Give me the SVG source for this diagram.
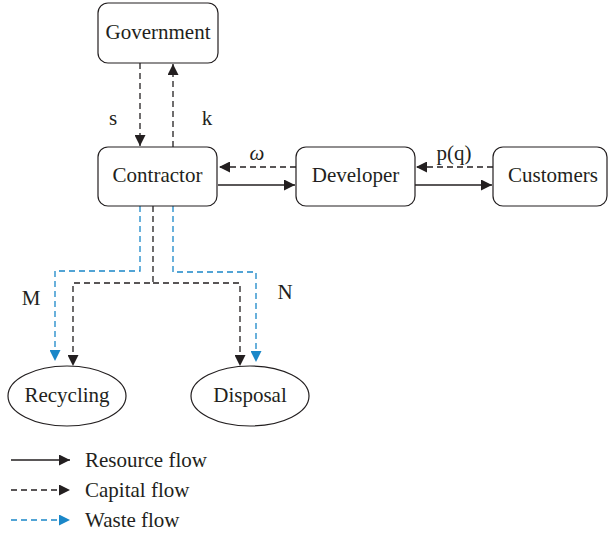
<svg xmlns="http://www.w3.org/2000/svg" width="610" height="535" viewBox="0 0 610 535">
<defs>
<marker id="ak" viewBox="0 0 10 10" refX="10" refY="5" markerWidth="12" markerHeight="11" markerUnits="userSpaceOnUse" orient="auto"><path d="M0,0 L10,5 L0,10 Z" fill="#231f20"/></marker>
<marker id="ab" viewBox="0 0 10 10" refX="10" refY="5" markerWidth="12" markerHeight="11" markerUnits="userSpaceOnUse" orient="auto"><path d="M0,0 L10,5 L0,10 Z" fill="#1a87c8"/></marker>
</defs>
<style>
.box{fill:#fff;stroke:#231f20;stroke-width:1.2}
.t{font-family:"Liberation Serif",serif;font-size:21px;fill:#231f20}
.res{fill:none;stroke:#231f20;stroke-width:1.5}
.cap{fill:none;stroke:#231f20;stroke-width:1.3;stroke-dasharray:6,4}
.was{fill:none;stroke:#1a87c8;stroke-width:1.3;stroke-dasharray:6,4}
</style>
<rect width="610" height="535" fill="#fff"/>
<g id="connectors">
<path class="cap" d="M140,63 V146" marker-end="url(#ak)"/>
<path class="cap" d="M173,147 V64" marker-end="url(#ak)"/>
<path class="cap" d="M296,167 H219" marker-end="url(#ak)"/>
<path class="res" d="M218,185 H295" marker-end="url(#ak)"/>
<path class="cap" d="M493,167 H416" marker-end="url(#ak)"/>
<path class="res" d="M415,185 H492" marker-end="url(#ak)"/>
<path class="was" d="M140,206 V271 H55 V361" marker-end="url(#ab)"/>
<path class="cap" d="M153,206 V283 H73 V366" marker-end="url(#ak)"/>
<path class="cap" d="M153,283 H240 V366" marker-end="url(#ak)"/>
<path class="was" d="M173,206 V272 H256 V362" marker-end="url(#ab)"/>
</g>
<g id="government"><rect class="box" x="98" y="3" width="120" height="60" rx="10"/><text class="t" x="158" y="39" text-anchor="middle">Government</text></g>
<g id="contractor"><rect class="box" x="98" y="147" width="119" height="59" rx="10"/><text class="t" x="157.5" y="182" text-anchor="middle">Contractor</text></g>
<g id="developer"><rect class="box" x="296" y="147" width="119" height="59" rx="10"/><text class="t" x="355.5" y="182" text-anchor="middle">Developer</text></g>
<g id="customers"><rect class="box" x="493" y="147" width="114" height="59" rx="10"/><text class="t" x="553" y="182" text-anchor="middle">Customers</text></g>
<g id="recycling"><ellipse class="box" cx="67" cy="396" rx="59" ry="30"/><text class="t" x="67" y="402" text-anchor="middle">Recycling</text></g>
<g id="disposal"><ellipse class="box" cx="250" cy="396" rx="59" ry="30"/><text class="t" x="250" y="402" text-anchor="middle">Disposal</text></g>
<g id="labels">
<text class="t" x="113" y="125" text-anchor="middle">s</text>
<text class="t" x="207" y="125" text-anchor="middle">k</text>
<text class="t" x="257" y="160" text-anchor="middle" font-style="italic">ω</text>
<text class="t" x="454" y="160" text-anchor="middle">p(q)</text>
<text class="t" x="31" y="305" text-anchor="middle">M</text>
<text class="t" x="285" y="299" text-anchor="middle">N</text>
</g>
<g id="legend">
<path class="res" d="M11,460 H70" marker-end="url(#ak)"/>
<path class="cap" d="M11,490 H70" marker-end="url(#ak)"/>
<path class="was" d="M11,520 H70" marker-end="url(#ab)"/>
<text class="t" x="85" y="467">Resource flow</text>
<text class="t" x="85" y="497">Capital flow</text>
<text class="t" x="85" y="527">Waste flow</text>
</g>
</svg>
